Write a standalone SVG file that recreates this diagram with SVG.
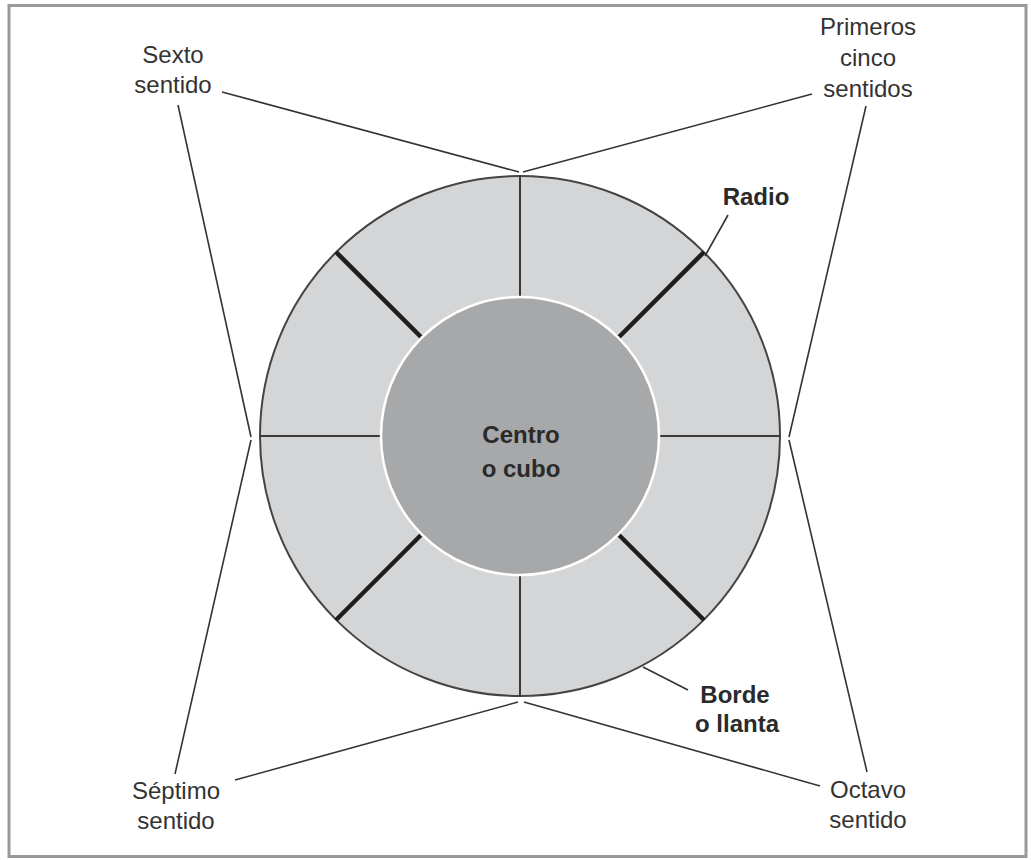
<svg xmlns="http://www.w3.org/2000/svg" width="1031" height="860" viewBox="0 0 1031 860">
<style>
.lbl{font-family:"Liberation Sans",Arial,sans-serif;font-size:24px;fill:#333;text-anchor:middle}
.b{font-weight:bold;fill:#2a2a2a}
.con{stroke:#333;stroke-width:1.6;fill:none}
.thin{stroke:#3a3a3a;stroke-width:2}
.thick{stroke:#1e1e1e;stroke-width:4.5}
</style>
<rect x="0" y="0" width="1031" height="860" fill="#fff"/>
<rect x="9" y="5.5" width="1017" height="851" fill="none" stroke="#999" stroke-width="3"/>
<g id="wheel">
<g id="rim">
<circle cx="520" cy="436" r="260" fill="#d4d5d6" stroke="#444" stroke-width="2"/>
</g>
<g id="spokes">
<line class="thin" x1="520" y1="176" x2="520" y2="297"/>
<line class="thin" x1="520" y1="575" x2="520" y2="696"/>
<line class="thin" x1="260" y1="436" x2="381" y2="436"/>
<line class="thin" x1="659" y1="436" x2="780" y2="436"/>
<line class="thick" x1="618" y1="338" x2="704" y2="252"/>
<line class="thick" x1="422" y1="338" x2="336" y2="252"/>
<line class="thick" x1="618" y1="534" x2="704" y2="620"/>
<line class="thick" x1="422" y1="534" x2="336" y2="620"/>
</g>
<g id="hub">
<circle cx="520" cy="436" r="139" fill="#a7a8aa" stroke="#fff" stroke-width="2.5"/>
<text class="lbl b" x="521" y="443" font-size="27">Centro</text>
<text class="lbl b" x="521" y="477" font-size="27">o cubo</text>
</g>
</g>
<g id="connectors">
<polyline class="con" points="222,92 519,172"/>
<polyline class="con" points="812,94 523,172"/>
<polyline class="con" points="178,105 251,437"/>
<polyline class="con" points="866,106 789,437"/>
<polyline class="con" points="175,774 251,440"/>
<polyline class="con" points="867,772 789,440"/>
<polyline class="con" points="235,780 518,702"/>
<polyline class="con" points="820,786 524,702"/>
<polyline class="con" points="728,215 705,256"/>
<polyline class="con" points="643,667 688,690"/>
</g>
<g id="sexto">
<text class="lbl" x="173" y="63">Sexto</text>
<text class="lbl" x="173" y="93">sentido</text>
</g>
<g id="primeros">
<text class="lbl" x="868" y="35">Primeros</text>
<text class="lbl" x="868" y="66">cinco</text>
<text class="lbl" x="868" y="97">sentidos</text>
</g>
<g id="septimo">
<text class="lbl" x="176" y="799">Séptimo</text>
<text class="lbl" x="176" y="829">sentido</text>
</g>
<g id="octavo">
<text class="lbl" x="868" y="798">Octavo</text>
<text class="lbl" x="868" y="828">sentido</text>
</g>
<g id="radio">
<text class="lbl b" x="756" y="205">Radio</text>
</g>
<g id="borde">
<text class="lbl b" x="735" y="703">Borde</text>
<text class="lbl b" x="737" y="732">o llanta</text>
</g>
</svg>
